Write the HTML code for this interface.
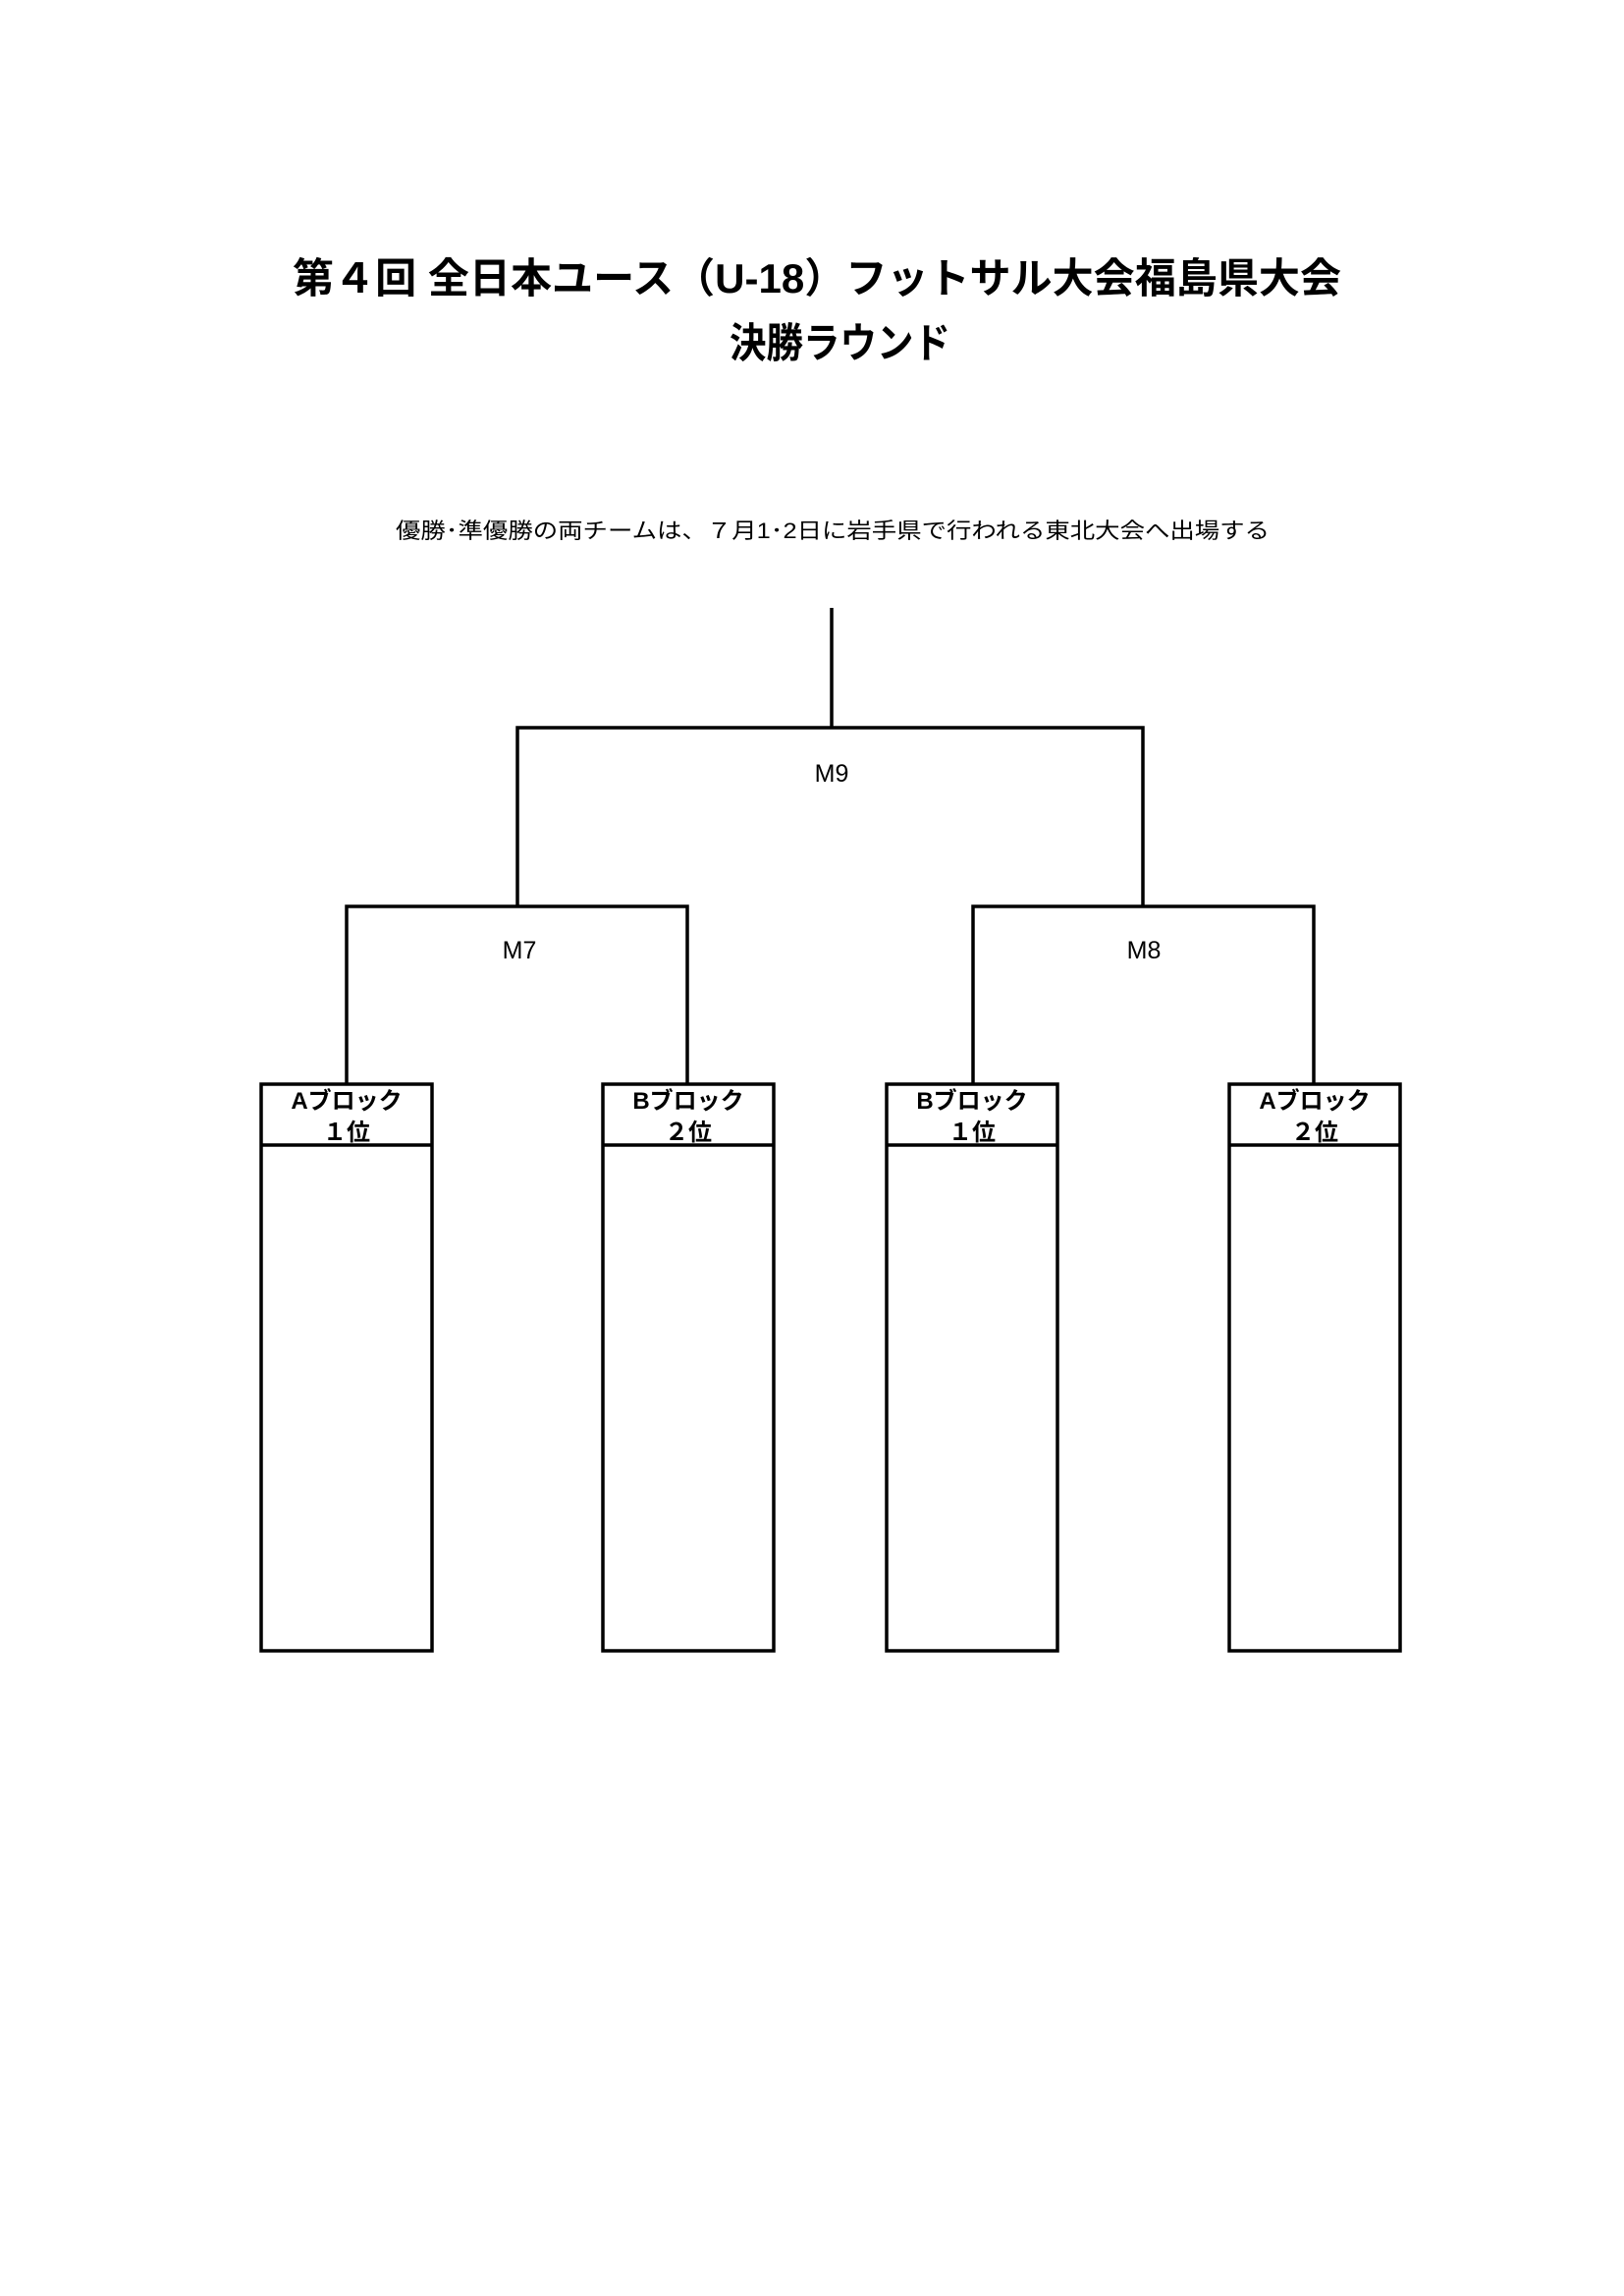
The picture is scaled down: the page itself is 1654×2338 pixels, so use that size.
<!DOCTYPE html>
<html><head><meta charset="utf-8">
<style>
html,body{margin:0;padding:0;background:#fff;}
svg{display:block;}
text{font-family:"Liberation Sans","Noto Sans CJK JP",sans-serif;fill:#000;}
</style></head>
<body>
<svg width="1654" height="2338" viewBox="0 0 1654 2338" xmlns="http://www.w3.org/2000/svg">
<rect width="1654" height="2338" fill="#fff"/>
<text x="298" y="298" font-size="42" font-weight="bold" textLength="1068" lengthAdjust="spacingAndGlyphs">第４回 全日本ユース（U-18）フットサル大会福島県大会</text>
<text x="743" y="364" font-size="42" font-weight="bold" textLength="225" lengthAdjust="spacingAndGlyphs">決勝ラウンド</text>
<text x="403" y="548" font-size="22" textLength="890" lengthAdjust="spacingAndGlyphs">優勝･準優勝の両チームは、７月1･2日に岩手県で行われる東北大会へ出場する</text>
<g stroke="#000" fill="none" stroke-width="3.5">
<line x1="847" y1="619" x2="847" y2="741"/>
<polyline points="527,923 527,741 1164,741 1164,923"/>
<polyline points="353,1104 353,923 700,923 700,1104"/>
<polyline points="991,1104 991,923 1338,923 1338,1104"/>
<rect x="266" y="1104" width="174" height="577"/>
<rect x="614" y="1104" width="174" height="577"/>
<rect x="903" y="1104" width="174" height="577"/>
<rect x="1252" y="1104" width="174" height="577"/>
<line x1="266" y1="1166" x2="440" y2="1166"/>
<line x1="614" y1="1166" x2="788" y2="1166"/>
<line x1="903" y1="1166" x2="1077" y2="1166"/>
<line x1="1252" y1="1166" x2="1426" y2="1166"/>
</g>
<g font-size="25" text-anchor="middle">
<text x="847" y="796">M9</text>
<text x="529" y="976">M7</text>
<text x="1165" y="976">M8</text>
</g>
<g font-size="24" font-weight="bold" text-anchor="middle">
<text x="353" y="1129">Aブロック</text><text x="353" y="1161">１位</text>
<text x="701" y="1129">Bブロック</text><text x="701" y="1161">２位</text>
<text x="990" y="1129">Bブロック</text><text x="990" y="1161">１位</text>
<text x="1339" y="1129">Aブロック</text><text x="1339" y="1161">２位</text>
</g>
</svg>
</body></html>
